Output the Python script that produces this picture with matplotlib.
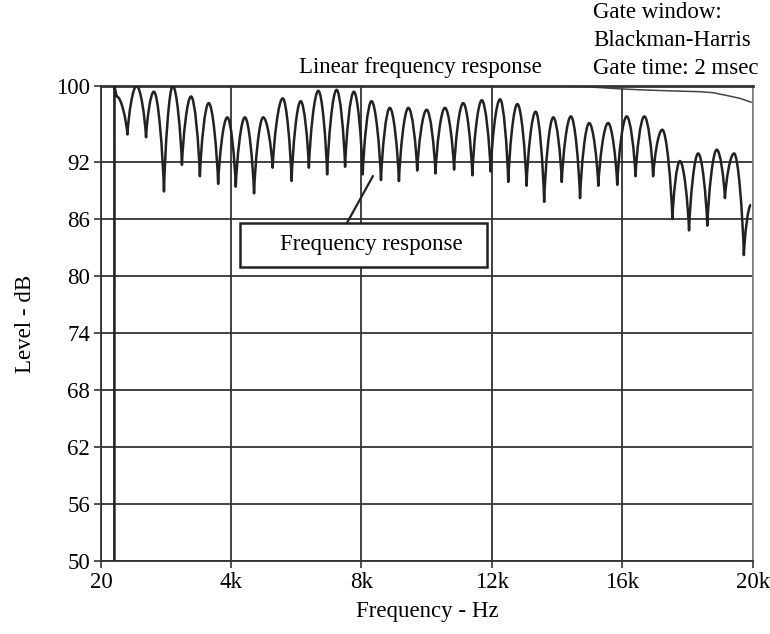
import matplotlib
matplotlib.use("Agg")
import matplotlib.pyplot as plt
from matplotlib.patches import Rectangle, PathPatch
from matplotlib.path import Path

plt.rcParams["font.family"] = ["Liberation Serif", "DejaVu Serif"]

# comb filtered response, peaks and dips (Hz, dB)
comb_hz = [430, 430, 500, 830, 1110, 1400, 1640, 1950, 2220, 2500, 2780, 3050, 3320,
           3610, 3890, 4150, 4430, 4710, 4990, 5280, 5590, 5860, 6140, 6390, 6680,
           6950, 7240, 7500, 7770, 8040, 8310, 8600, 8870, 9150, 9440, 9710, 10000,
           10270, 10560, 10840, 11120, 11400, 11690, 11960, 12250, 12500, 12780,
           13060, 13340, 13600, 13880, 14140, 14420, 14700, 14980, 15260, 15560,
           15840, 16130, 16400, 16670, 16940, 17220, 17530, 17760, 18040, 18320,
           18600, 18890, 19140, 19420, 19720, 19940]
comb_db = [50.0, 100.0, 98.9, 94.9, 100.0, 94.6, 99.4, 88.9, 100.0, 91.7, 98.9, 90.5, 98.2,
           89.7, 96.7, 89.4, 96.7, 88.7, 96.7, 91.4, 98.7, 90.0, 98.4, 91.4, 99.5,
           90.7, 99.6, 91.5, 99.4, 90.7, 98.4, 90.1, 97.7, 90.0, 97.7, 91.1, 97.5,
           90.8, 97.7, 91.2, 98.2, 90.6, 98.5, 91.0, 98.6, 89.9, 98.1,
           89.5, 97.3, 87.8, 96.7, 89.9, 96.8, 88.2, 96.1, 89.5, 96.1,
           89.6, 96.8, 90.5, 96.8, 90.5, 95.4, 86.0, 92.1, 84.8, 92.9,
           85.3, 93.3, 88.2, 92.9, 82.2, 87.5]

# linear (ungated) response
lin_hz = [430, 440, 13470, 14080, 15000, 15920, 16530, 17360, 18370, 18770, 19200, 19600, 19940]
lin_db = [50.0, 100.0, 100.0, 100.0, 99.9, 99.7, 99.6, 99.5, 99.4, 99.3, 99.0, 98.7, 98.3]

x_ticks = [20, 4000, 8000, 12000, 16000, 20000]
x_labels = ["20", "4k", "8k", "12k", "16k", "20k"]
y_ticks = [50, 56, 62, 68, 74, 80, 86, 92, 100]

FS = 16.5
W, H = 770, 634
fig = plt.figure(figsize=(W / 100, H / 100), dpi=100)
ax = fig.add_axes([101 / W, 1 - 561 / H, 652 / W, 475 / H])

ax.set_xlim(20, 20000)
ax.set_ylim(50, 100)
ax.set_xticks(x_ticks)
ax.set_xticklabels(x_labels)
ax.set_yticks(y_ticks)
ax.tick_params(direction="out", length=5, width=1.2, color="#333333",
               labelsize=FS, pad=3)
ax.grid(True, color="#333333", linewidth=1.3)
ax.set_axisbelow(True)
for s in ax.spines.values():
    s.set_color("#333333")
    s.set_linewidth(1.3)
ax.spines["top"].set_linewidth(2)
ax.spines["right"].set_color("#888888")

ax.plot(lin_hz, lin_db, color="#444444", linewidth=1.1)

# comb curve: straight rise, then smooth lobes between the read extrema
# (rounded tops, pointed dips)
verts = [(comb_hz[0], comb_db[0]), (comb_hz[1], comb_db[1]), (comb_hz[2], comb_db[2])]
codes = [Path.MOVETO, Path.LINETO, Path.LINETO]
for i in range(2, len(comb_hz) - 1):
    x0, y0 = comb_hz[i], comb_db[i]
    x1, y1 = comb_hz[i + 1], comb_db[i + 1]
    dx, dy = x1 - x0, y1 - y0
    if dy > 0:
        c1 = (x0 + 0.12 * dx, y0 + 0.4 * dy)
        c2 = (x1 - 0.42 * dx, y1)
    else:
        c1 = (x0 + 0.42 * dx, y0)
        c2 = (x1 - 0.12 * dx, y1 - 0.4 * dy)
    verts += [c1, c2, (x1, y1)]
    codes += [Path.CURVE4] * 3
ax.add_patch(PathPatch(Path(verts, codes), facecolor="none", edgecolor="#222222",
                       linewidth=1.8, joinstyle="round", zorder=3))

ax.set_xlabel("Frequency - Hz", fontsize=FS, labelpad=6)
ax.set_ylabel("Level - dB", fontsize=FS, labelpad=14)

# callout box
ax.add_patch(Rectangle((4280, 81.0), 7570, 4.6, facecolor="white",
                       edgecolor="#222222", linewidth=1.8, zorder=5))
ax.text(8300, 83.3, "Frequency response", fontsize=FS, ha="center", va="center", zorder=6)
ax.plot([7560, 8350], [85.6, 90.5], color="#222222", linewidth=1.6, zorder=6)

fig.text(420 / W, 1 - 68 / H, "Linear frequency response", fontsize=FS,
         ha="center", va="center")
fig.text(593 / W, 1 - 12 / H, "Gate window:", fontsize=FS, ha="left", va="center")
fig.text(593 / W, 1 - 40 / H, "Blackman-Harris", fontsize=FS, ha="left", va="center")
fig.text(593 / W, 1 - 68 / H, "Gate time: 2 msec", fontsize=FS, ha="left", va="center")

fig.savefig("out.png", dpi=100, facecolor="white")
